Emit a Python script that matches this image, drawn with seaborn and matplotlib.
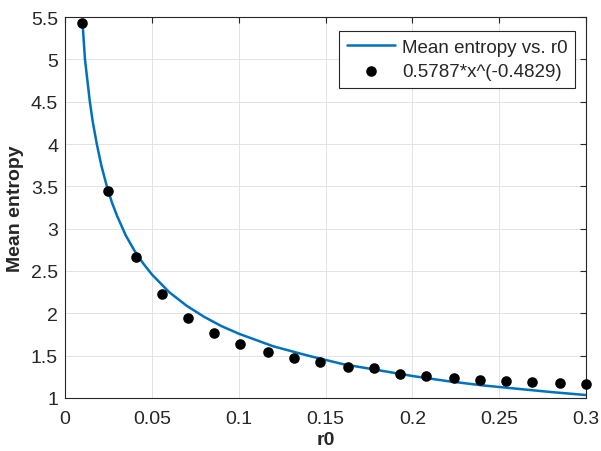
import matplotlib
matplotlib.use("Agg")
import matplotlib.pyplot as plt
import seaborn as sns
import pandas as pd
from matplotlib.ticker import FuncFormatter

# ---- data ----
curve_r0 = [0.0102, 0.0115, 0.0143, 0.016, 0.0183, 0.021, 0.0241, 0.027, 0.030,
            0.035, 0.040, 0.045, 0.050, 0.060, 0.070, 0.080, 0.090, 0.100,
            0.120, 0.140, 0.160, 0.180, 0.200, 0.220, 0.240, 0.260, 0.280, 0.300]
curve_entropy = [5.40, 5.00, 4.50, 4.26, 4.00, 3.74, 3.50, 3.31, 3.15,
                 2.92, 2.74, 2.59, 2.46, 2.25, 2.09, 1.96, 1.85, 1.76,
                 1.61, 1.50, 1.40, 1.33, 1.26, 1.20, 1.15, 1.11, 1.07, 1.035]

dots_r0 = [0.010, 0.025, 0.041, 0.056, 0.071, 0.086, 0.101, 0.117, 0.132, 0.147,
           0.163, 0.178, 0.193, 0.208, 0.224, 0.239, 0.254, 0.269, 0.285, 0.300]
dots_entropy = [5.43, 3.44, 2.66, 2.23, 1.95, 1.77, 1.64, 1.54, 1.47, 1.42,
                1.37, 1.35, 1.285, 1.265, 1.234, 1.214, 1.199, 1.19, 1.183, 1.17]

line_label = "Mean entropy vs. r0"
dots_label = "0.5787*x^(-0.4829)"
x_ticks = [0, 0.05, 0.1, 0.15, 0.2, 0.25, 0.3]
y_ticks = [1, 1.5, 2, 2.5, 3, 3.5, 4, 4.5, 5, 5.5]

sns.set_style("white")
plt.rcParams['font.family'] = ['Liberation Sans', 'DejaVu Sans']

fig = plt.figure(figsize=(6.01, 4.52), dpi=100)
ax = fig.add_axes([65 / 601, 1 - 399 / 452, 521 / 601, 381 / 452])

curve_df = pd.DataFrame({"r0": curve_r0, "entropy": curve_entropy})
dots_df = pd.DataFrame({"r0": dots_r0, "entropy": dots_entropy})

sns.lineplot(data=curve_df, x="r0", y="entropy", ax=ax, color="#0072BD",
             linewidth=1.8, label=line_label, sort=False, zorder=3)
sns.scatterplot(data=dots_df, x="r0", y="entropy", ax=ax, color="black",
                s=58, edgecolor="black", linewidth=0, label=dots_label, zorder=4,
                clip_on=False)

ax.set_xlim(0, 0.3)
ax.set_ylim(1, 5.5)
ax.set_xticks(x_ticks)
ax.set_yticks(y_ticks)
fmt = FuncFormatter(lambda v, p: f"{v:g}")
ax.xaxis.set_major_formatter(fmt)
ax.yaxis.set_major_formatter(fmt)

ax.grid(True, color="#e3e3e3", linewidth=0.7)
ax.set_axisbelow(True)
for s in ax.spines.values():
    s.set_visible(True)
    s.set_color("#262626")
    s.set_linewidth(0.8)
ax.tick_params(direction="in", length=4, width=0.8, colors="#262626",
               labelsize=14, top=True, right=True)
ax.tick_params(axis="x", pad=9)
ax.tick_params(axis="y", pad=5)

ax.set_xlabel("r0", fontsize=14, fontweight="bold", color="#262626", labelpad=2.5)
ax.set_ylabel("Mean entropy", fontsize=14, fontweight="bold", color="#262626", labelpad=5)

leg = ax.legend(loc="upper right", bbox_to_anchor=((575 - 65) / 521, (399 - 32) / 381),
                borderaxespad=0, fontsize=13.5, frameon=True, fancybox=False,
                handlelength=2.6, handletextpad=0.35, borderpad=0.4,
                labelspacing=0.4, framealpha=1)
leg.get_frame().set_edgecolor("#262626")
leg.get_frame().set_linewidth(0.8)

fig.savefig("out.png", dpi=100)
